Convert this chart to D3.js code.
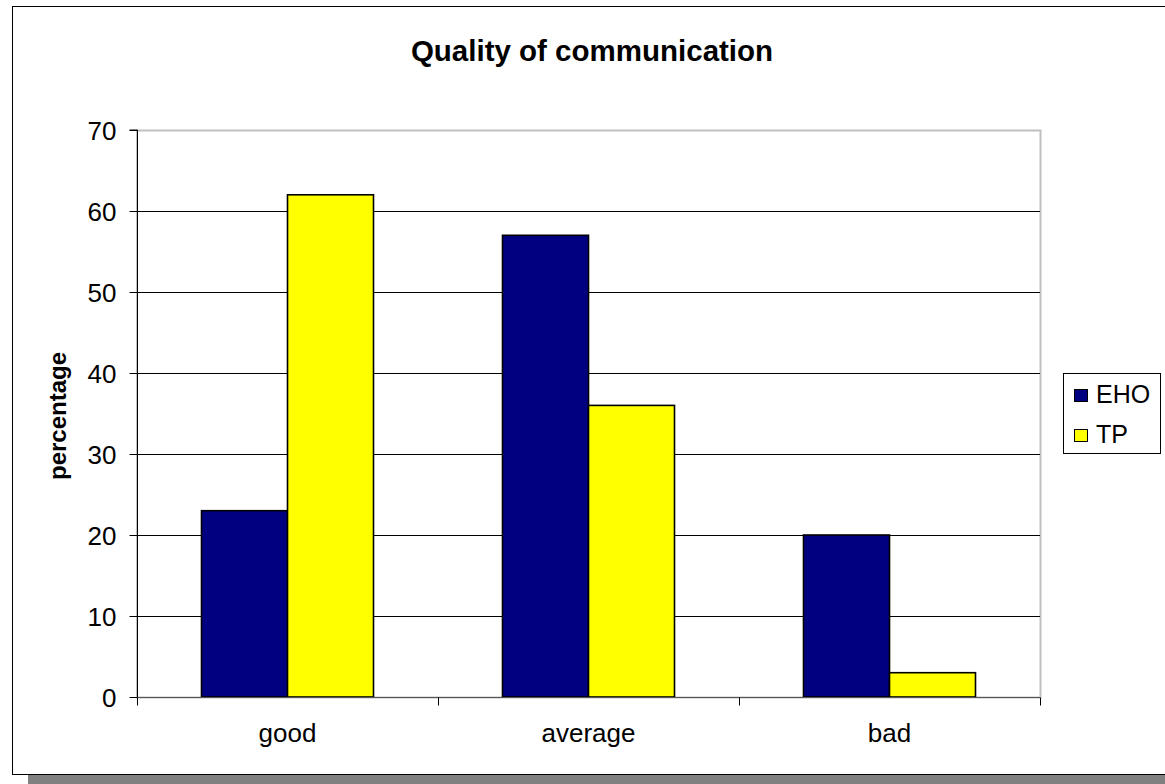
<!DOCTYPE html>
<html><head><meta charset="utf-8">
<script src="https://cdn.jsdelivr.net/npm/d3@7"></script>
<style>body{margin:0;background:#fff}svg{display:block;font-family:"Liberation Sans",Arial,sans-serif}</style>
</head><body>
<script>
const categories = ["good", "average", "bad"];
const seriesNames = ["EHO", "TP"];
const ehoValues = [23, 57, 20];
const tpValues = [62, 36, 3];
const yTicks = [0, 10, 20, 30, 40, 50, 60, 70];
const colors = ["#000080", "#ffff00"];

const W = 1165, H = 784;
const svg = d3.select("body").append("svg").attr("width", W).attr("height", H);

// shadow + frame
svg.append("rect").attr("x", 28).attr("y", 775).attr("width", W).attr("height", 12).attr("fill", "#808080");
svg.append("rect").attr("x", 12.5).attr("y", 6.5).attr("width", W + 10).attr("height", 768)
  .attr("fill", "#fff").attr("stroke", "#000").attr("stroke-width", 1);

const L = 137, R = 1040, T = 130, B = 697;
const x0 = d3.scaleBand().domain(categories).range([L, R]).paddingInner(0).paddingOuter(0);
const y = d3.scaleLinear().domain([0, 70]).range([B, T]);

// plot border (gray)
svg.append("rect").attr("x", L).attr("y", T + 0.5).attr("width", R - L + 0.5).attr("height", B - T)
  .attr("fill", "none").attr("stroke", "#c0c0c0").attr("stroke-width", 2);

// gridlines
svg.append("g").selectAll("line").data(yTicks.filter(d => d > 0 && d < 70)).join("line")
  .attr("x1", L).attr("x2", R).attr("y1", d => Math.round(y(d)) + 0.5).attr("y2", d => Math.round(y(d)) + 0.5)
  .attr("stroke", "#000").attr("stroke-width", 1);

// bars
const data = categories.map((c, i) => ({cat: c, vals: [ehoValues[i], tpValues[i]]}));
const bw = x0.bandwidth() / 3.5;
const g = svg.append("g");
data.forEach(d => {
  d.vals.forEach((v, j) => {
    const bx = x0(d.cat) + 0.75 * bw + j * bw;
    g.append("rect").attr("x", bx).attr("y", y(v)).attr("width", bw).attr("height", B - y(v))
      .attr("fill", colors[j]).attr("stroke", "#000").attr("stroke-width", 1.6);
  });
});

// y axis
const yAxis = d3.axisLeft(y).tickValues(yTicks).tickSize(8).tickPadding(13);
const ya = svg.append("g").attr("transform", `translate(${L + 0.5},0)`).call(yAxis);
ya.select(".domain").attr("stroke", "#000").attr("d", `M-8,${T}H0V${B}`);
ya.selectAll("text").attr("font-size", 26).attr("fill", "#000").attr("font-family", "Liberation Sans, Arial").attr("dy", "0.36em");
ya.selectAll("line").attr("stroke", "#000");

// x axis
const xa = svg.append("g").attr("transform", `translate(0,${B + 0.5})`);
xa.append("line").attr("x1", L).attr("x2", R).attr("stroke", "#555").attr("stroke-width", 1);
const bounds = categories.map(c => x0(c)).concat([R]);
xa.selectAll("line.t").data(bounds).join("line").attr("class", "t")
  .attr("x1", d => Math.round(d) + 0.5).attr("x2", d => Math.round(d) + 0.5).attr("y1", 0).attr("y2", 8).attr("stroke", "#000");
xa.selectAll("text").data(categories).join("text")
  .attr("x", d => x0(d) + x0.bandwidth() / 2).attr("y", 44).attr("text-anchor", "middle")
  .attr("font-size", 26).text(d => d);

// title
svg.append("text").attr("x", 592).attr("y", 61).attr("text-anchor", "middle")
  .attr("font-size", 29.5).attr("font-weight", "bold").text("Quality of communication");

// y label
svg.append("text").attr("transform", "translate(66,416) rotate(-90)").attr("text-anchor", "middle")
  .attr("font-size", 24).attr("font-weight", "bold").text("percentage");

// legend
const lg = svg.append("g");
lg.append("rect").attr("x", 1063.5).attr("y", 373.5).attr("width", 97).attr("height", 80)
  .attr("fill", "#fff").attr("stroke", "#000");
seriesNames.forEach((s, i) => {
  const ly = 395 + i * 40;
  lg.append("rect").attr("x", 1074.5).attr("y", ly - 5.5).attr("width", 13).attr("height", 12)
    .attr("fill", colors[i]).attr("stroke", "#000");
  lg.append("text").attr("x", 1096).attr("y", ly + 8).attr("font-size", 25).text(s);
});
</script>
</body></html>
